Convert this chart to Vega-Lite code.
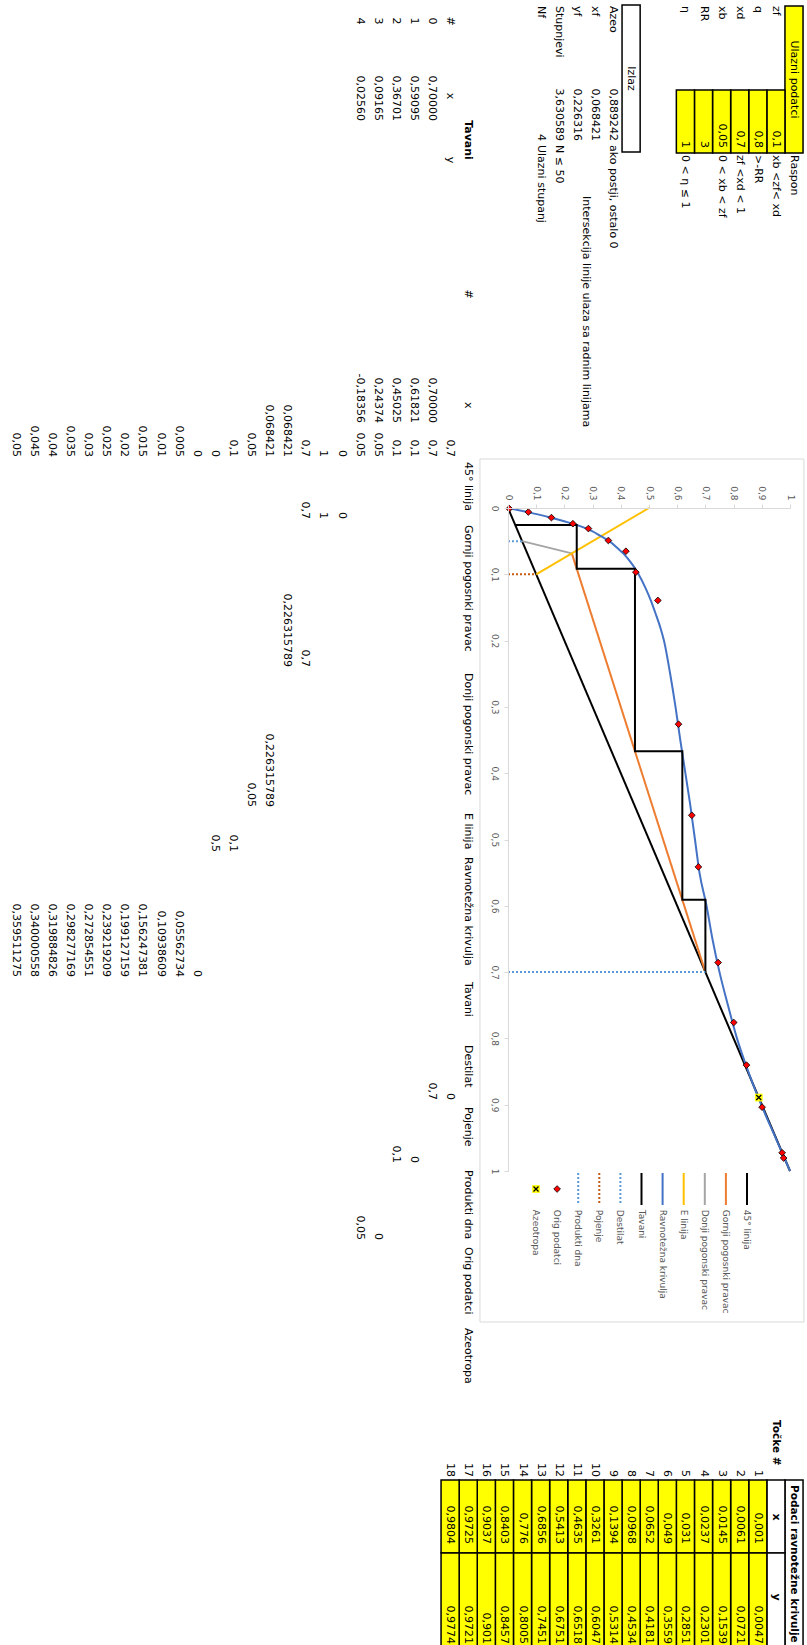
{
  "$schema": "https://vega.github.io/schema/vega-lite/v6.json",
  "width": 807,
  "height": 1645,
  "padding": 0,
  "autosize": {"type": "none"},
  "background": "white",
  "config": {
    "view": {"stroke": null},
    "locale": {"number": {"decimal": ",", "thousands": ".", "grouping": [3], "currency": ["", " €"]}}
  },
  "datasets": {
    "yellowCells": [
      {"r1": 0.5, "r2": 1.5, "c1": 6, "c2": 153},
      {"r1": 1.5, "r2": 2.5, "c1": 90, "c2": 153},
      {"r1": 2.5, "r2": 3.5, "c1": 90, "c2": 153},
      {"r1": 3.5, "r2": 4.5, "c1": 90, "c2": 153},
      {"r1": 4.5, "r2": 5.5, "c1": 90, "c2": 153},
      {"r1": 5.5, "r2": 6.5, "c1": 90, "c2": 153},
      {"r1": 6.5, "r2": 7.5, "c1": 90, "c2": 153}
    ],
    "whiteCells": [
      {"r1": 9.5, "r2": 10.5, "c1": 5, "c2": 152},
      {"r1": 0.5, "r2": 1.5, "c1": 1480, "c2": 1665},
      {"r1": 1.5, "r2": 2.5, "c1": 1480, "c2": 1553},
      {"r1": 1.5, "r2": 2.5, "c1": 1553, "c2": 1665}
    ],
    "chartArea": [{"r1": 0.45, "r2": 18.35, "c1": 459, "c2": 1322}],
    "sheetLabels": [
      {"t": "Raspon", "row": 1, "c": 155},
      {"t": "zf", "row": 2, "c": 6},
      {"t": "xb <zf< xd", "row": 2, "c": 155},
      {"t": "q", "row": 3, "c": 6},
      {"t": ">-RR", "row": 3, "c": 155},
      {"t": "xd", "row": 4, "c": 6},
      {"t": "zf <xd < 1", "row": 4, "c": 155},
      {"t": "xb", "row": 5, "c": 6},
      {"t": "0 < xb < zf", "row": 5, "c": 155},
      {"t": "RR", "row": 6, "c": 6},
      {"t": "η", "row": 7, "c": 6},
      {"t": "0 < η ≤ 1", "row": 7, "c": 155},
      {"t": "Azeo", "row": 11, "c": 6},
      {"t": "ako postji, ostalo 0", "row": 11, "c": 145},
      {"t": "xf", "row": 12, "c": 6},
      {"t": "Intersekcija linije ulaza sa radnim linijama", "row": 12.5, "c": 196},
      {"t": "yf", "row": 13, "c": 6},
      {"t": "Stupnjevi", "row": 14, "c": 6},
      {"t": "N ≤ 50", "row": 14, "c": 145},
      {"t": "Nf", "row": 15, "c": 6},
      {"t": "Ulazni stupanj", "row": 15, "c": 145},
      {"t": "x", "row": 19, "c": 402},
      {"t": "45° linija", "row": 19, "c": 462},
      {"t": "Gornji pogosnki pravac", "row": 19, "c": 525},
      {"t": "Donji pogonski pravac", "row": 19, "c": 673},
      {"t": "E linija", "row": 19, "c": 813},
      {"t": "Ravnotežna krivulja", "row": 19, "c": 857},
      {"t": "Tavani", "row": 19, "c": 982},
      {"t": "Destilat", "row": 19, "c": 1045},
      {"t": "Pojenje", "row": 19, "c": 1107},
      {"t": "Produkti dna", "row": 19, "c": 1170},
      {"t": "Orig podatci", "row": 19, "c": 1247},
      {"t": "Azeotropa", "row": 19, "c": 1328}
    ],
    "sheetNumbers": [
      {"t": "0,1", "row": 2, "c": 148},
      {"t": "0,8", "row": 3, "c": 148},
      {"t": "0,7", "row": 4, "c": 148},
      {"t": "0,05", "row": 5, "c": 148},
      {"t": "3", "row": 6, "c": 148},
      {"t": "1", "row": 7, "c": 148},
      {"t": "0,889242", "row": 11, "c": 141},
      {"t": "0,068421", "row": 12, "c": 141},
      {"t": "0,226316", "row": 13, "c": 141},
      {"t": "3,630589", "row": 14, "c": 141},
      {"t": "4", "row": 15, "c": 141},
      {"t": "0,70000", "row": 21, "c": 121},
      {"t": "0,59095", "row": 22, "c": 121},
      {"t": "0,36701", "row": 23, "c": 121},
      {"t": "0,09165", "row": 24, "c": 121},
      {"t": "0,02560", "row": 25, "c": 121},
      {"t": "0,70000", "row": 21, "c": 423},
      {"t": "0,61821", "row": 22, "c": 423},
      {"t": "0,45025", "row": 23, "c": 423},
      {"t": "0,24374", "row": 24, "c": 423},
      {"t": "-0,18356", "row": 25, "c": 423},
      {"t": "0,7", "row": 20, "c": 457},
      {"t": "0,7", "row": 21, "c": 457},
      {"t": "0,1", "row": 22, "c": 457},
      {"t": "0,1", "row": 23, "c": 457},
      {"t": "0,05", "row": 24, "c": 457},
      {"t": "0,05", "row": 25, "c": 457},
      {"t": "0", "row": 26, "c": 457},
      {"t": "1", "row": 27, "c": 457},
      {"t": "0,7", "row": 28, "c": 457},
      {"t": "0,068421", "row": 29, "c": 457},
      {"t": "0,068421", "row": 30, "c": 457},
      {"t": "0,05", "row": 31, "c": 457},
      {"t": "0,1", "row": 32, "c": 457},
      {"t": "0", "row": 33, "c": 457},
      {"t": "0", "row": 34, "c": 457},
      {"t": "0,005", "row": 35, "c": 457},
      {"t": "0,01", "row": 36, "c": 457},
      {"t": "0,015", "row": 37, "c": 457},
      {"t": "0,02", "row": 38, "c": 457},
      {"t": "0,025", "row": 39, "c": 457},
      {"t": "0,03", "row": 40, "c": 457},
      {"t": "0,035", "row": 41, "c": 457},
      {"t": "0,04", "row": 42, "c": 457},
      {"t": "0,045", "row": 43, "c": 457},
      {"t": "0,05", "row": 44, "c": 457},
      {"t": "0", "row": 26, "c": 519},
      {"t": "1", "row": 27, "c": 519},
      {"t": "0,7", "row": 28, "c": 519},
      {"t": "0,7", "row": 28, "c": 667},
      {"t": "0,226315789", "row": 29, "c": 667},
      {"t": "0,226315789", "row": 30, "c": 807},
      {"t": "0,05", "row": 31, "c": 807},
      {"t": "0,1", "row": 32, "c": 852},
      {"t": "0,5", "row": 33, "c": 852},
      {"t": "0", "row": 34, "c": 977},
      {"t": "0,05562734", "row": 35, "c": 977},
      {"t": "0,10938609", "row": 36, "c": 977},
      {"t": "0,156247381", "row": 37, "c": 977},
      {"t": "0,199127159", "row": 38, "c": 977},
      {"t": "0,239219209", "row": 39, "c": 977},
      {"t": "0,272854551", "row": 40, "c": 977},
      {"t": "0,298277169", "row": 41, "c": 977},
      {"t": "0,319884826", "row": 42, "c": 977},
      {"t": "0,340000558", "row": 43, "c": 977},
      {"t": "0,359511275", "row": 44, "c": 977},
      {"t": "0", "row": 20, "c": 1100},
      {"t": "0,7", "row": 21, "c": 1100},
      {"t": "0", "row": 22, "c": 1163},
      {"t": "0,1", "row": 23, "c": 1163},
      {"t": "0", "row": 24, "c": 1240},
      {"t": "0,05", "row": 25, "c": 1240}
    ],
    "sheetCentered": [
      {"t": "Ulazni podatci", "row": 1, "c": 79.5},
      {"t": "Izlaz", "row": 10, "c": 78.5},
      {"t": "#", "row": 20, "c": 21},
      {"t": "x", "row": 20, "c": 96},
      {"t": "y", "row": 20, "c": 160},
      {"t": "0", "row": 21, "c": 21},
      {"t": "1", "row": 22, "c": 21},
      {"t": "2", "row": 23, "c": 21},
      {"t": "3", "row": 24, "c": 21},
      {"t": "4", "row": 25, "c": 21},
      {"t": "#", "row": 19, "c": 294}
    ],
    "sheetBoldLeft": [
      {"t": "Podaci ravnotežne krivulje", "row": 1, "c": 1485},
      {"t": "Točke #", "row": 2, "c": 1420}
    ],
    "sheetBoldCenter": [
      {"t": "Tavani", "row": 19, "c": 140},
      {"t": "x", "row": 2, "c": 1517},
      {"t": "y", "row": 2, "c": 1597}
    ],
    "equilibrium": [
      {"n": 1, "x": 0.001, "y": 0.0047},
      {"n": 2, "x": 0.0061, "y": 0.0721},
      {"n": 3, "x": 0.0145, "y": 0.1539},
      {"n": 4, "x": 0.0237, "y": 0.2301},
      {"n": 5, "x": 0.031, "y": 0.2851},
      {"n": 6, "x": 0.049, "y": 0.3559},
      {"n": 7, "x": 0.0652, "y": 0.4181},
      {"n": 8, "x": 0.0968, "y": 0.4534},
      {"n": 9, "x": 0.1394, "y": 0.5314},
      {"n": 10, "x": 0.3261, "y": 0.6047},
      {"n": 11, "x": 0.4635, "y": 0.6518},
      {"n": 12, "x": 0.5413, "y": 0.6751},
      {"n": 13, "x": 0.6856, "y": 0.7451},
      {"n": 14, "x": 0.776, "y": 0.8005},
      {"n": 15, "x": 0.8403, "y": 0.8457},
      {"n": 16, "x": 0.9037, "y": 0.901},
      {"n": 17, "x": 0.9725, "y": 0.9721},
      {"n": 18, "x": 0.9804, "y": 0.9774}
    ],
    "lines": [
      {"s": "45° linija", "k": 0, "x": 0, "y": 0},
      {"s": "45° linija", "k": 1, "x": 1, "y": 1},
      {"s": "Gornji pogosnki pravac", "k": 0, "x": 0.7, "y": 0.7},
      {"s": "Gornji pogosnki pravac", "k": 1, "x": 0.068421, "y": 0.226316},
      {"s": "Donji pogonski pravac", "k": 0, "x": 0.068421, "y": 0.226316},
      {"s": "Donji pogonski pravac", "k": 1, "x": 0.05, "y": 0.05},
      {"s": "E linija", "k": 0, "x": 0.1, "y": 0.1},
      {"s": "E linija", "k": 1, "x": 0, "y": 0.5},
      {"s": "Destilat", "k": 0, "x": 0.7, "y": 0},
      {"s": "Destilat", "k": 1, "x": 0.7, "y": 0.7},
      {"s": "Pojenje", "k": 0, "x": 0.1, "y": 0},
      {"s": "Pojenje", "k": 1, "x": 0.1, "y": 0.1},
      {"s": "Produkti dna", "k": 0, "x": 0.05, "y": 0},
      {"s": "Produkti dna", "k": 1, "x": 0.05, "y": 0.05}
    ],
    "tavani": [
      {"k": 0, "x": 0.7, "y": 0.7},
      {"k": 1, "x": 0.59095, "y": 0.7},
      {"k": 2, "x": 0.59095, "y": 0.61821},
      {"k": 3, "x": 0.36701, "y": 0.61821},
      {"k": 4, "x": 0.36701, "y": 0.45025},
      {"k": 5, "x": 0.09165, "y": 0.45025},
      {"k": 6, "x": 0.09165, "y": 0.24374},
      {"k": 7, "x": 0.0256, "y": 0.24374},
      {"k": 8, "x": 0.0256, "y": 0.0256}
    ],
    "curve": [
      {"x": 0, "y": 0},
      {"x": 0.005, "y": 0.05562734},
      {"x": 0.01, "y": 0.10938609},
      {"x": 0.015, "y": 0.156247381},
      {"x": 0.02, "y": 0.199127159},
      {"x": 0.025, "y": 0.239219209},
      {"x": 0.03, "y": 0.272854551},
      {"x": 0.035, "y": 0.298277169},
      {"x": 0.04, "y": 0.319884826},
      {"x": 0.045, "y": 0.340000558},
      {"x": 0.05, "y": 0.359511275},
      {"x": 0.06, "y": 0.387},
      {"x": 0.07, "y": 0.412},
      {"x": 0.08, "y": 0.432},
      {"x": 0.09, "y": 0.449},
      {"x": 0.1, "y": 0.463},
      {"x": 0.12, "y": 0.487},
      {"x": 0.14, "y": 0.507},
      {"x": 0.16, "y": 0.524},
      {"x": 0.18, "y": 0.54},
      {"x": 0.2, "y": 0.553},
      {"x": 0.25, "y": 0.575},
      {"x": 0.3, "y": 0.594},
      {"x": 0.35, "y": 0.611},
      {"x": 0.4, "y": 0.629},
      {"x": 0.45, "y": 0.647},
      {"x": 0.5, "y": 0.663},
      {"x": 0.55, "y": 0.679},
      {"x": 0.6, "y": 0.704},
      {"x": 0.65, "y": 0.725},
      {"x": 0.7, "y": 0.75},
      {"x": 0.75, "y": 0.78},
      {"x": 0.8, "y": 0.812},
      {"x": 0.85, "y": 0.852},
      {"x": 0.9, "y": 0.898},
      {"x": 0.95, "y": 0.949},
      {"x": 1, "y": 1}
    ],
    "azeotrope": [{"x": 0.889242, "y": 0.889242}],
    "legend": [
      {"s": "45° linija", "rank": 0},
      {"s": "Gornji pogosnki pravac", "rank": 1},
      {"s": "Donji pogonski pravac", "rank": 2},
      {"s": "E linija", "rank": 3},
      {"s": "Ravnotežna krivulja", "rank": 4},
      {"s": "Tavani", "rank": 5},
      {"s": "Destilat", "rank": 6},
      {"s": "Pojenje", "rank": 7},
      {"s": "Produkti dna", "rank": 8},
      {"s": "Orig podatci", "rank": 9},
      {"s": "Azeotropa", "rank": 10}
    ]
  },
  "layer": [
    {
      "layer": [
        {
          "data": {"name": "yellowCells"},
          "mark": {"type": "rect", "fill": "#FFFF00", "stroke": "#000000", "strokeWidth": 1.5},
          "encoding": {
            "x": {"field": "r1", "type": "quantitative", "scale": {"domain": [1, 44], "range": [794, 15.7], "nice": false, "zero": false}, "axis": null},
            "x2": {"field": "r2"},
            "y": {"field": "c1", "type": "quantitative", "scale": {"domain": [0, 1645], "range": [0, 1645], "nice": false, "zero": false}, "axis": null},
            "y2": {"field": "c2"}
          }
        },
        {
          "data": {"name": "whiteCells"},
          "mark": {"type": "rect", "fill": "#FFFFFF", "stroke": "#000000", "strokeWidth": 1.5},
          "encoding": {
            "x": {"field": "r1", "type": "quantitative", "axis": null},
            "x2": {"field": "r2"},
            "y": {"field": "c1", "type": "quantitative", "axis": null},
            "y2": {"field": "c2"}
          }
        },
        {
          "data": {"name": "chartArea"},
          "mark": {"type": "rect", "fill": "#FFFFFF", "stroke": "#D9D9D9", "strokeWidth": 1},
          "encoding": {
            "x": {"field": "r1", "type": "quantitative", "axis": null},
            "x2": {"field": "r2"},
            "y": {"field": "c1", "type": "quantitative", "axis": null},
            "y2": {"field": "c2"}
          }
        },
        {
          "data": {"name": "sheetLabels"},
          "mark": {"type": "text", "angle": 90, "align": "left", "baseline": "middle", "font": "DejaVu Sans", "fontSize": 11, "color": "#000000"},
          "encoding": {
            "x": {"field": "row", "type": "quantitative", "axis": null},
            "y": {"field": "c", "type": "quantitative", "axis": null},
            "text": {"field": "t"}
          }
        },
        {
          "data": {"name": "sheetNumbers"},
          "mark": {"type": "text", "angle": 90, "align": "right", "baseline": "middle", "font": "DejaVu Sans", "fontSize": 11, "color": "#000000"},
          "encoding": {
            "x": {"field": "row", "type": "quantitative", "axis": null},
            "y": {"field": "c", "type": "quantitative", "axis": null},
            "text": {"field": "t"}
          }
        },
        {
          "data": {"name": "sheetCentered"},
          "mark": {"type": "text", "angle": 90, "align": "center", "baseline": "middle", "font": "DejaVu Sans", "fontSize": 11, "color": "#000000"},
          "encoding": {
            "x": {"field": "row", "type": "quantitative", "axis": null},
            "y": {"field": "c", "type": "quantitative", "axis": null},
            "text": {"field": "t"}
          }
        },
        {
          "data": {"name": "sheetBoldLeft"},
          "mark": {"type": "text", "angle": 90, "align": "left", "baseline": "middle", "font": "DejaVu Sans", "fontSize": 10.5, "fontWeight": "bold", "color": "#000000"},
          "encoding": {
            "x": {"field": "row", "type": "quantitative", "axis": null},
            "y": {"field": "c", "type": "quantitative", "axis": null},
            "text": {"field": "t"}
          }
        },
        {
          "data": {"name": "sheetBoldCenter"},
          "mark": {"type": "text", "angle": 90, "align": "center", "baseline": "middle", "font": "DejaVu Sans", "fontSize": 11, "fontWeight": "bold", "color": "#000000"},
          "encoding": {
            "x": {"field": "row", "type": "quantitative", "axis": null},
            "y": {"field": "c", "type": "quantitative", "axis": null},
            "text": {"field": "t"}
          }
        }
      ]
    },
    {
      "data": {"name": "equilibrium"},
      "layer": [
        {
          "mark": {"type": "rect", "fill": "#FFFF00", "stroke": "#000000", "strokeWidth": 1.5, "xOffset": -9.05, "x2Offset": 9.05},
          "encoding": {
            "x": {"field": "n", "type": "quantitative", "scale": {"domain": [1, 18], "range": [757.8, 450.1], "nice": false, "zero": false}, "axis": null},
            "x2": {"field": "n"},
            "y": {"datum": 1480, "type": "quantitative", "scale": {"domain": [0, 1645], "range": [0, 1645], "nice": false, "zero": false}, "axis": null},
            "y2": {"datum": 1553}
          }
        },
        {
          "mark": {"type": "rect", "fill": "#FFFF00", "stroke": "#000000", "strokeWidth": 1.5, "xOffset": -9.05, "x2Offset": 9.05},
          "encoding": {
            "x": {"field": "n", "type": "quantitative", "axis": null},
            "x2": {"field": "n"},
            "y": {"datum": 1553, "type": "quantitative", "axis": null},
            "y2": {"datum": 1665}
          }
        },
        {
          "mark": {"type": "text", "angle": 90, "align": "right", "baseline": "middle", "font": "DejaVu Sans", "fontSize": 11, "color": "#000000"},
          "encoding": {
            "x": {"field": "n", "type": "quantitative", "axis": null},
            "y": {"datum": 1477, "type": "quantitative", "axis": null},
            "text": {"field": "n", "type": "quantitative", "format": "d"}
          }
        },
        {
          "mark": {"type": "text", "angle": 90, "align": "right", "baseline": "middle", "font": "DejaVu Sans", "fontSize": 11, "color": "#000000"},
          "encoding": {
            "x": {"field": "n", "type": "quantitative", "axis": null},
            "y": {"datum": 1544, "type": "quantitative", "axis": null},
            "text": {"field": "x", "type": "quantitative", "format": "~g"}
          }
        },
        {
          "mark": {"type": "text", "angle": 90, "align": "right", "baseline": "middle", "font": "DejaVu Sans", "fontSize": 11, "color": "#000000"},
          "encoding": {
            "x": {"field": "n", "type": "quantitative", "axis": null},
            "y": {"datum": 1644, "type": "quantitative", "axis": null},
            "text": {"field": "y", "type": "quantitative", "format": "~g"}
          }
        }
      ]
    },
    {
      "layer": [
        {
          "data": {"name": "lines"},
          "transform": [{"filter": "indexof(['45° linija', 'Gornji pogosnki pravac', 'Donji pogonski pravac', 'E linija'], datum.s) >= 0"}],
          "mark": {"type": "line", "strokeWidth": 2},
          "encoding": {
            "x": {
              "field": "y", "type": "quantitative",
              "scale": {"domain": [0, 1], "range": [508, 790], "nice": false, "zero": false},
              "axis": {"orient": "top", "offset": -508, "zindex": 1, "values": [0, 0.1, 0.2, 0.3, 0.4, 0.5, 0.6, 0.7, 0.8, 0.9, 1], "format": ".1~f", "labelAngle": 90, "labelAlign": "right", "labelBaseline": "middle", "labelPadding": 4, "tickSize": 4, "title": null, "grid": false, "labelFlush": false, "labelOverlap": false, "labelBound": false, "domainColor": "#D9D9D9", "tickColor": "#D9D9D9", "labelColor": "#595959", "labelFont": "DejaVu Sans", "labelFontSize": 9}
            },
            "y": {
              "field": "x", "type": "quantitative",
              "scale": {"domain": [0, 1], "range": [508, 1171], "nice": false, "zero": false},
              "axis": {"orient": "left", "offset": -508, "zindex": 1, "values": [0, 0.1, 0.2, 0.3, 0.4, 0.5, 0.6, 0.7, 0.8, 0.9, 1], "format": ".1~f", "labelAngle": 90, "labelAlign": "center", "labelBaseline": "top", "labelPadding": 6, "tickSize": 4, "title": null, "grid": false, "labelFlush": false, "labelOverlap": false, "labelBound": false, "domainColor": "#D9D9D9", "tickColor": "#D9D9D9", "labelColor": "#595959", "labelFont": "DejaVu Sans", "labelFontSize": 9}
            },
            "color": {
              "field": "s", "type": "nominal",
              "scale": {"domain": ["45° linija", "Gornji pogosnki pravac", "Donji pogonski pravac", "E linija", "Ravnotežna krivulja", "Tavani", "Destilat", "Pojenje", "Produkti dna"], "range": ["#000000", "#ED7D31", "#A5A5A5", "#FFC000", "#4472C4", "#000000", "#5B9BD5", "#C55A11", "#5B9BD5"]},
              "legend": null
            },
            "order": {"field": "k", "type": "quantitative"}
          }
        },
        {
          "data": {"name": "curve"},
          "mark": {"type": "line", "strokeWidth": 2, "color": "#4472C4", "interpolate": "monotone"},
          "encoding": {
            "x": {"field": "y", "type": "quantitative"},
            "y": {"field": "x", "type": "quantitative"},
            "order": {"field": "x", "type": "quantitative"}
          }
        },
        {
          "data": {"name": "tavani"},
          "mark": {"type": "line", "strokeWidth": 2, "color": "#000000"},
          "encoding": {
            "x": {"field": "y", "type": "quantitative"},
            "y": {"field": "x", "type": "quantitative"},
            "order": {"field": "k", "type": "quantitative"}
          }
        },
        {
          "data": {"name": "lines"},
          "transform": [{"filter": "indexof(['Destilat', 'Pojenje', 'Produkti dna'], datum.s) >= 0"}],
          "mark": {"type": "line", "strokeWidth": 2, "strokeDash": [2, 2]},
          "encoding": {
            "x": {"field": "y", "type": "quantitative"},
            "y": {"field": "x", "type": "quantitative"},
            "color": {"field": "s", "type": "nominal", "legend": null},
            "order": {"field": "k", "type": "quantitative"}
          }
        },
        {
          "data": {"name": "equilibrium"},
          "mark": {"type": "point", "shape": "diamond", "filled": true, "fill": "#FF0000", "stroke": "#000000", "strokeWidth": 0.8, "size": 45, "opacity": 1},
          "encoding": {
            "x": {"field": "y", "type": "quantitative"},
            "y": {"field": "x", "type": "quantitative"}
          }
        },
        {
          "data": {"name": "azeotrope"},
          "mark": {"type": "point", "shape": "square", "filled": true, "fill": "#FFFF00", "strokeWidth": 0, "size": 60, "opacity": 1},
          "encoding": {
            "x": {"field": "y", "type": "quantitative"},
            "y": {"field": "x", "type": "quantitative"}
          }
        },
        {
          "data": {"name": "azeotrope"},
          "mark": {"type": "point", "shape": "M-1,-1L1,1M-1,1L1,-1", "filled": false, "stroke": "#000000", "strokeWidth": 1.3, "size": 25, "opacity": 1},
          "encoding": {
            "x": {"field": "y", "type": "quantitative"},
            "y": {"field": "x", "type": "quantitative"}
          }
        }
      ]
    },
    {
      "data": {"name": "legend"},
      "layer": [
        {
          "transform": [{"filter": "datum.rank <= 5"}],
          "mark": {"type": "rule", "strokeWidth": 2},
          "encoding": {
            "x": {"field": "rank", "type": "quantitative", "scale": {"domain": [0, 10], "range": [747, 536], "nice": false, "zero": false}, "axis": null},
            "y": {"datum": 0, "type": "quantitative", "scale": {"domain": [0, 1], "range": [1173, 1205], "nice": false, "zero": false}, "axis": null},
            "y2": {"datum": 1},
            "color": {
              "field": "s", "type": "nominal",
              "scale": {"domain": ["45° linija", "Gornji pogosnki pravac", "Donji pogonski pravac", "E linija", "Ravnotežna krivulja", "Tavani", "Destilat", "Pojenje", "Produkti dna"], "range": ["#000000", "#ED7D31", "#A5A5A5", "#FFC000", "#4472C4", "#000000", "#5B9BD5", "#C55A11", "#5B9BD5"]},
              "legend": null
            }
          }
        },
        {
          "transform": [{"filter": "datum.rank >= 6 && datum.rank <= 8"}],
          "mark": {"type": "rule", "strokeWidth": 2, "strokeDash": [2, 2]},
          "encoding": {
            "x": {"field": "rank", "type": "quantitative", "axis": null},
            "y": {"datum": 0, "type": "quantitative", "axis": null},
            "y2": {"datum": 1},
            "color": {"field": "s", "type": "nominal", "legend": null}
          }
        },
        {
          "transform": [{"filter": "datum.rank == 9"}],
          "mark": {"type": "point", "shape": "diamond", "filled": true, "fill": "#FF0000", "stroke": "#000000", "strokeWidth": 0.8, "size": 45, "opacity": 1},
          "encoding": {
            "x": {"field": "rank", "type": "quantitative", "axis": null},
            "y": {"datum": 0.5, "type": "quantitative", "axis": null}
          }
        },
        {
          "transform": [{"filter": "datum.rank == 10"}],
          "mark": {"type": "point", "shape": "square", "filled": true, "fill": "#FFFF00", "strokeWidth": 0, "size": 60, "opacity": 1},
          "encoding": {
            "x": {"field": "rank", "type": "quantitative", "axis": null},
            "y": {"datum": 0.5, "type": "quantitative", "axis": null}
          }
        },
        {
          "transform": [{"filter": "datum.rank == 10"}],
          "mark": {"type": "point", "shape": "M-1,-1L1,1M-1,1L1,-1", "filled": false, "stroke": "#000000", "strokeWidth": 1.3, "size": 25, "opacity": 1},
          "encoding": {
            "x": {"field": "rank", "type": "quantitative", "axis": null},
            "y": {"datum": 0.5, "type": "quantitative", "axis": null}
          }
        },
        {
          "mark": {"type": "text", "angle": 90, "align": "left", "baseline": "middle", "font": "DejaVu Sans", "fontSize": 9, "color": "#595959"},
          "encoding": {
            "x": {"field": "rank", "type": "quantitative", "axis": null},
            "y": {"datum": 1.15, "type": "quantitative", "axis": null},
            "text": {"field": "s"}
          }
        }
      ]
    }
  ],
  "resolve": {
    "scale": {"x": "independent", "y": "independent", "color": "independent"},
    "axis": {"x": "independent", "y": "independent"}
  }
}
